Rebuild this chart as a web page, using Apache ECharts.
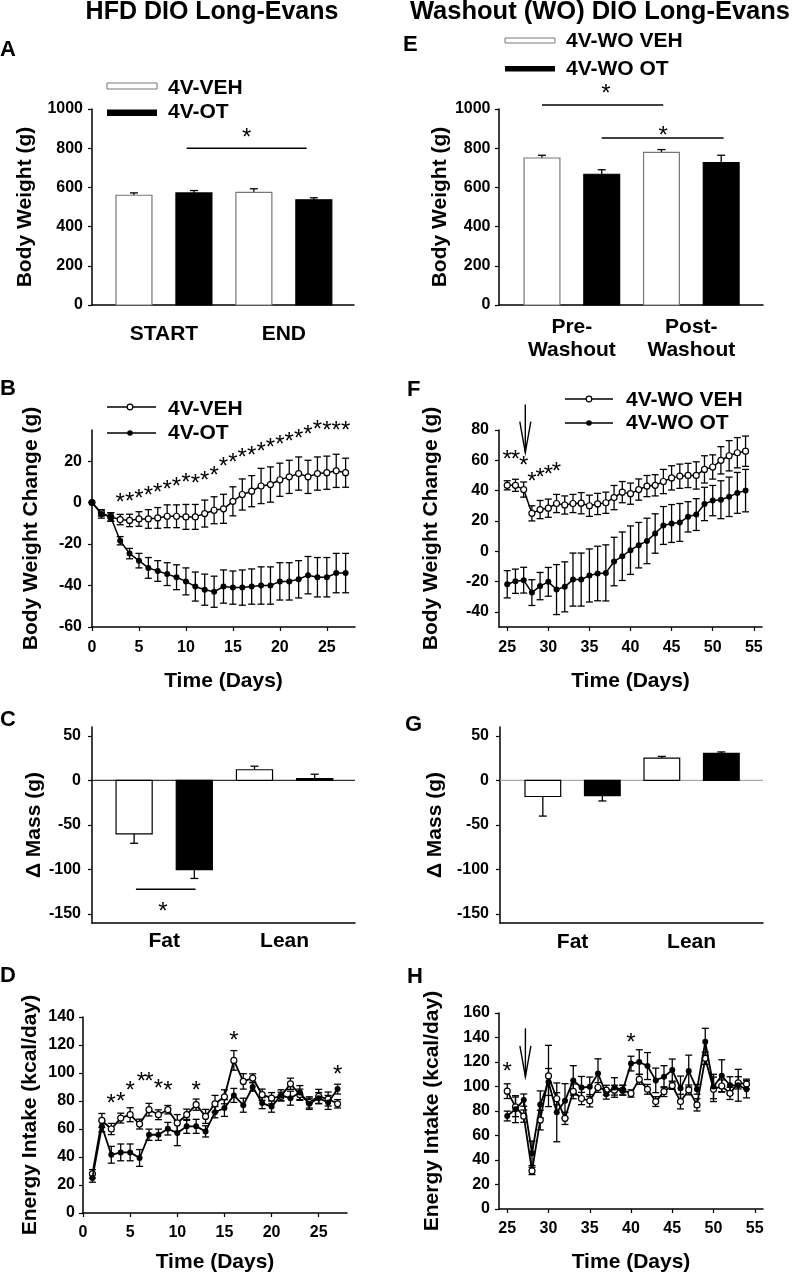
<!DOCTYPE html>
<html><head><meta charset="utf-8">
<script src="https://cdn.jsdelivr.net/npm/echarts@6/dist/echarts.min.js"></script>
<style>html,body{margin:0;padding:0;background:#fff}#c{width:795px;height:1277px}</style>
</head><body><div id="c"></div><script>
// ================= DATA =================
// Panel A (HFD body weight)
const groupsA = ['START', 'END'];
const bwA_VEH = [560, 575];
const bwA_VEH_err = [12, 18];
const bwA_OT = [572, 537];
const bwA_OT_err = [12, 10];
// Panel E (washout body weight)
const groupsE = ['Pre-\nWashout', 'Post-\nWashout'];
const bwE_VEH = [750, 779];
const bwE_VEH_err = [14, 14];
const bwE_OT = [667, 726];
const bwE_OT_err = [23, 38];
// Panels C and G (delta mass)
const groupsMass = ['Fat', 'Lean'];
const massC_VEH = [-60, 12];
const massC_VEH_err = [10.5, 4];
const massC_OT = [-100, 2];
const massC_OT_err = [10, 5];
const massG_VEH = [-18, 25];
const massG_VEH_err = [22, 2];
const massG_OT = [-17, 30.5];
const massG_OT_err = [6, 1.5];

// Panel B (HFD body weight change)
const daysB = [0,1,2,3,4,5,6,7,8,9,10,11,12,13,14,15,16,17,18,19,20,21,22,23,24,25,26,27];
const bwcB_VEH = [0,-5,-6.9,-8.2,-8.6,-7.9,-7.9,-7.4,-6.6,-6.6,-6.9,-6.9,-5.3,-3.7,-3,0.6,3.9,5.5,8,8.7,11,12.4,14,12.4,14,14.4,15.3,14.4];
const bwcB_VEH_err = [0,1.5,2,2.5,3,3.5,4.5,5,5.5,5.5,6,6,6.5,6.5,7,7,7.5,7.5,8.5,8.5,8,8,8,8,8,8,8,7];
const bwcB_OT = [0,-5.5,-7,-18.4,-24.6,-28,-31.5,-33,-34.5,-36,-38,-40.5,-42,-43,-40.5,-41,-41,-40.5,-40,-40,-38,-38,-37,-35,-36,-36,-34,-34];
const bwcB_OT_err = [0,2,2,2,2.5,3.5,5,5,5.5,6,6.5,7,7.5,7.5,8,8,8.5,8.5,9,9,9,9,9,9,9.5,9.5,9.5,9.5];
const starsB = [[3,2.3],[4,3.0],[5,4.2],[6,6],[7,7.4],[8,8.7],[9,10.3],[10,12],[11,11.5],[12,13],[13,15.6],[14,20],[15,21.6],[16,24],[17,25.3],[18,27.3],[19,28.9],[20,30.5],[21,31.8],[22,33.4],[23,35.3],[24,37.7],[25,37],[26,37],[27,37]];

// Panel F (washout body weight change)
const daysWO = [25,26,27,28,29,30,31,32,33,34,35,36,37,38,39,40,41,42,43,44,45,46,47,48,49,50,51,52,53,54];
const bwcF_VEH = [43.5,43.5,40.7,25,27.5,28.4,31.5,30.5,31.5,31.7,30,31.2,32,35.4,39,38,40.7,43,43.5,46,48.4,49.5,50,50,54,55.6,60,63,65,66];
const bwcF_VEH_err = [3,4,5,5,6,6,6,6,6,7,7,7,7,8,7,7,7,7,7,8,8,8,8,9,9,8,9,10,10,10];
const bwcF_OT = [-21.8,-19.8,-19.1,-27.3,-23,-20.2,-25.3,-23.5,-18.7,-18.7,-16,-14.7,-14.3,-6.8,-3.3,0.7,4,6.8,11.7,17,18.3,19,22.7,24.2,31.2,33.4,34,35.9,38.5,40];
const bwcF_OT_err = [9,8,8.5,8.5,9,9.5,16.5,16.5,17.5,17.5,17.5,18,18.5,16,16,16,15,15,13,12.5,12.5,12.5,10,10.5,11,10,12.5,13,13.5,14];
const starsF = [[25,63.8],[26,63.8],[27,60],[28,49.5],[29,52],[30,54],[31,55.7]];
const arrowF = [[27.2, 96.8, 65.1]];

// Panel D (HFD energy intake)
const daysD = [1,2,3,4,5,6,7,8,9,10,11,12,13,14,15,16,17,18,19,20,21,22,23,24,25,26,27];
const eiD_VEH = [28,66.1,60,67.8,70.2,63.5,73.8,70.2,73.8,64.3,70.2,77.4,69,78,83,109,94,96.4,84.5,82,83.3,92.3,84.5,79,83.3,81.4,78];
const eiD_VEH_err = [3,5,4,3.5,5,3.5,4.5,3.5,3,6,4,4,5,6,5,7,5.5,3,4,4,3,4,4,4,5,5,3];
const eiD_OT = [25,61.9,41.6,43.3,43.3,39.3,55.9,55.9,60.2,57.1,61.9,61.9,58.3,72,75,84,77,90,78.5,76,84,82,86,78,82,79,88.5];
const eiD_OT_err = [3,4,6,6,6,6,4,4,4.5,9,5,5,4,4,6,5,5,3,4,4,4,5,5,4,4,5,3.5];
const starsD = [[3,82.1],[4,83.3],[5,90.9],[6.2,97.6],[7,97.6],[8,92.9],[9,90.9],[12,90.9],[16,126.6],[27,102.9]];

// Panel H (washout energy intake)
const eiH_VEH = [96.2,83.4,75.8,31.1,72.6,108.6,90,74,96,90.2,88.3,99.2,97,97,97,94.3,105.8,97.7,87.7,95.8,100.7,87.7,97.2,85,123,97.7,100.4,94.4,103,102];
const eiH_VEH_err = [6,8,5,3,8,25,5,5,6,5,5,4,4,4,4,3,4,4,4,4,3,6,4,5,5,10,5,5,5,4];
const eiH_OT = [75.9,81.5,88.9,45.5,85.4,103.7,78.9,88.3,105,99.2,99.7,110.6,93.7,99.2,97,118.7,120,116.7,105,108,113.4,98.5,112.6,97.7,136.5,100,108.8,101,101,97.7];
const eiH_OT_err = [4,11,5,10,11,11,24,14,12,9,8,12,4,8,4,6,10,11,10,9,9,10,13,4,11,10,13,7,13,7];
const starsH = [[25,116.5],[40,139.8]];
const arrowH = [[27.2, 147.5, 107.9]];

// significance bars: [x1, x2, yLine, xStar, yStar]
const sigA = [[1.88, 3.88, 800, 2.88, 883]];
const sigE = [[1.0, 3.03, 1020, 2.07, 1105], [2.0, 4.04, 852, 3.03, 889]];
const sigC = [[1.03, 2.02, -122, 1.48, -141.6]];

// tick values
const ticksBW = [0, 200, 400, 600, 800, 1000];
const ticksB = [-60, -40, -20, 0, 20];
const ticksF = [-40, -20, 0, 20, 40, 60, 80];
const ticksMass = [-150, -100, -50, 0, 50];
const ticksD = [0, 20, 40, 60, 80, 100, 120, 140];
const ticksH = [0, 20, 40, 60, 80, 100, 120, 140, 160];
const ticksDayHFD = [0, 5, 10, 15, 20, 25];
const ticksDayWO = [25, 30, 35, 40, 45, 50, 55];

// ================= CHART =================
const FF = "'Liberation Sans', Arial, Helvetica, sans-serif";
const grids = [], xAxes = [], yAxes = [], series = [];

function axisBase(extra) {
  return Object.assign({
    type: 'value',
    axisLine: { show: true, onZero: false, lineStyle: { color: '#000', width: 1.5 } },
    splitLine: { show: false },
    nameLocation: 'middle',
    nameTextStyle: { color: '#000', fontFamily: FF, fontWeight: 'bold', fontSize: 21 },
  }, extra);
}
function lab(margin, values, formatter) {
  return { color: '#000', fontFamily: FF, fontWeight: 'bold', fontSize: 16, margin: margin, customValues: values,
    formatter: formatter || (v => String(v)) };
}
function tick(values, show) {
  return { show: show !== false, length: 4, inside: false, customValues: values, lineStyle: { color: '#000', width: 1.2 } };
}
function addPanel(grid, xa, ya) {
  const i = grids.length;
  grids.push(grid);
  xa.gridIndex = i; ya.gridIndex = i;
  xAxes.push(xa); yAxes.push(ya);
  return i;
}

// ---- renderers ----
function errRender(params, api) {
  const x = api.value(0), y = api.value(1), e = api.value(2);
  if (!e) return null;
  const lo = api.coord([x, y - e]), hi = api.coord([x, y + e]);
  const st = { stroke: '#000', lineWidth: 1.3 };
  const c = 3.5;
  return { type: 'group', children: [
    { type: 'line', shape: { x1: lo[0], y1: lo[1], x2: hi[0], y2: hi[1] }, style: st },
    { type: 'line', shape: { x1: lo[0] - c, y1: lo[1], x2: lo[0] + c, y2: lo[1] }, style: st },
    { type: 'line', shape: { x1: hi[0] - c, y1: hi[1], x2: hi[0] + c, y2: hi[1] }, style: st }
  ] };
}
function barRender(fill, stroke) {
  return function (params, api) {
    const x = api.value(0), v = api.value(1), e = api.value(2);
    const w = api.size([0.6, 0])[0];
    const p0 = api.coord([x, 0]), p1 = api.coord([x, v]);
    const pe = api.coord([x, v + (v >= 0 ? e : -e)]);
    const st = { stroke: '#000', lineWidth: 1.3 };
    return { type: 'group', children: [
      { type: 'line', shape: { x1: p1[0], y1: p1[1], x2: pe[0], y2: pe[1] }, style: st },
      { type: 'line', shape: { x1: pe[0] - 4, y1: pe[1], x2: pe[0] + 4, y2: pe[1] }, style: st },
      { type: 'rect', shape: { x: p0[0] - w / 2, y: Math.min(p0[1], p1[1]), width: w, height: Math.abs(p1[1] - p0[1]) },
        style: { fill: fill, stroke: stroke, lineWidth: 1.2 } }
    ] };
  };
}
const starFont = { fill: '#000', fontFamily: FF, fontSize: 24, align: 'center', verticalAlign: 'middle' };
const STAR_DY = 6;
function starRender(params, api) {
  const p = api.coord([api.value(0), api.value(1)]);
  return { type: 'text', x: p[0], y: p[1] + STAR_DY, style: Object.assign({ text: '*' }, starFont) };
}
function sigRender(params, api) {
  const a = api.coord([api.value(0), api.value(2)]), b = api.coord([api.value(1), api.value(2)]);
  const s = api.coord([api.value(3), api.value(4)]);
  return { type: 'group', children: [
    { type: 'line', shape: { x1: a[0], y1: a[1], x2: b[0], y2: b[1] }, style: { stroke: '#000', lineWidth: 1.5 } },
    { type: 'text', x: s[0], y: s[1] + STAR_DY, style: Object.assign({ text: '*' }, starFont) }
  ] };
}
function arrowRender(params, api) {
  const t = api.coord([api.value(0), api.value(1)]), p = api.coord([api.value(0), api.value(2)]);
  const st = { stroke: '#000', lineWidth: 1.4, fill: null };
  return { type: 'group', children: [
    { type: 'line', shape: { x1: t[0], y1: t[1], x2: p[0], y2: p[1] }, style: st },
    { type: 'polyline', shape: { points: [[p[0] - 5.5, p[1] - 31], [p[0], p[1]], [p[0] + 5.5, p[1] - 31]] }, style: st }
  ] };
}
function zeroRender(color) {
  return function (params, api) {
    const cs = params.coordSys;
    const y = api.coord([api.value(0), 0])[1];
    return { type: 'line', shape: { x1: cs.x, y1: y, x2: cs.x + cs.width, y2: y }, style: { stroke: color, lineWidth: 1.3 } };
  };
}
function custom(idx, data, render, z) {
  series.push({ type: 'custom', xAxisIndex: idx, yAxisIndex: idx, data: data, renderItem: render,
    encode: { x: 0, y: 1 }, clip: false, silent: true, z: z || 3 });
}
function zip(xs, ys, es) { return xs.map((x, i) => es ? [x, ys[i], es[i]] : [x, ys[i]]); }

// ---- bar panels ----
function barPanel(grid, xmin, xmax, groups, labelMargin, ymin, ymax, yticks, yname, ygap, ylabMargin,
                  veh, vehErr, ot, otErr, vehStroke, sig, zeroColor) {
  const labX = groups.map((g, i) => 1.5 + 2 * i);
  const idx = addPanel(grid,
    axisBase({ min: xmin, max: xmax,
      axisLabel: Object.assign(lab(labelMargin, labX, v => groups[Math.round((v - 1.5) / 2)]), { fontSize: 21, lineHeight: 22.5 }),
      axisTick: { show: false } }),
    axisBase({ min: ymin, max: ymax, name: yname, nameGap: ygap, nameRotate: 90,
      axisLabel: lab(ylabMargin, yticks), axisTick: tick(yticks) }));
  if (zeroColor) custom(idx, [[1, 0]], zeroRender(zeroColor), 2);
  custom(idx, groups.map((g, i) => [1 + 2 * i, veh[i], vehErr[i]]), barRender('#fff', vehStroke), 3);
  custom(idx, groups.map((g, i) => [2 + 2 * i, ot[i], otErr[i]]), barRender('#000', '#000'), 3);
  if (sig) custom(idx, sig, sigRender, 4);
}
barPanel({ left: 92, top: 109, width: 262, height: 196 }, 0.3, 4.67, groupsA, 18, 0, 1000, ticksBW, 'Body Weight (g)', 56, 9,
  bwA_VEH, bwA_VEH_err, bwA_OT, bwA_OT_err, '#777', sigA, null);
barPanel({ left: 499, top: 109, width: 264, height: 196 }, 0.28, 4.70, groupsE, 11, 0, 1000, ticksBW, 'Body Weight (g)', 48, 8.5,
  bwE_VEH, bwE_VEH_err, bwE_OT, bwE_OT_err, '#777', sigE, null);

// ---- line panels ----
function linePanel(grid, xmin, xmax, xticks, xlabMargin, xgap, ymin, ymax, yticks, yname, ygap, ylabMargin,
                   days, veh, vehErr, ot, otErr, stars, arrow, lw) {
  const idx = addPanel(grid,
    axisBase({ min: xmin, max: xmax, name: 'Time (Days)', nameGap: xgap,
      axisLabel: lab(xlabMargin, xticks), axisTick: tick(xticks) }),
    axisBase({ min: ymin, max: ymax, name: yname, nameGap: ygap, nameRotate: 90,
      axisLabel: lab(ylabMargin, yticks), axisTick: tick(yticks) }));
  custom(idx, zip(days, veh, vehErr), errRender, 2);
  custom(idx, zip(days, ot, otErr), errRender, 2);
  series.push({ type: 'line', xAxisIndex: idx, yAxisIndex: idx, data: zip(days, veh), symbol: 'circle', symbolSize: 6,
    showSymbol: true, clip: false, silent: true, z: 4,
    lineStyle: { color: '#000', width: lw }, itemStyle: { color: '#fff', borderColor: '#000', borderWidth: 1.2 } });
  series.push({ type: 'line', xAxisIndex: idx, yAxisIndex: idx, data: zip(days, ot), symbol: 'circle', symbolSize: 6,
    showSymbol: true, clip: false, silent: true, z: 5,
    lineStyle: { color: '#000', width: lw }, itemStyle: { color: '#000', borderColor: '#000', borderWidth: 0 } });
  if (stars) custom(idx, stars, starRender, 6);
  if (arrow) custom(idx, arrow, arrowRender, 6);
}
linePanel({ left: 92, top: 430, width: 263, height: 197 }, 0, 28, ticksDayHFD, 13, 44, -60, 35, ticksB,
  'Body Weight Change (g)', 50, 10, daysB, bwcB_VEH, bwcB_VEH_err, bwcB_OT, bwcB_OT_err, starsB, null, 1.5);
linePanel({ left: 499, top: 430, width: 263, height: 197 }, 24, 56, ticksDayWO, 13, 44, -50, 80, ticksF,
  'Body Weight Change (g)', 57, 10, daysWO, bwcF_VEH, bwcF_VEH_err, bwcF_OT, bwcF_OT_err, starsF, arrowF, 1.5);

barPanel({ left: 92, top: 727, width: 263, height: 196 }, 0.3, 4.67, groupsMass, 7, -160, 60, ticksMass, 'Δ Mass (g)', 47, 11,
  massC_VEH, massC_VEH_err, massC_OT, massC_OT_err, '#000', sigC, '#333');
barPanel({ left: 500, top: 727, width: 263, height: 196 }, 0.28, 4.70, groupsMass, 8, -160, 60, ticksMass, 'Δ Mass (g)', 54, 11,
  massG_VEH, massG_VEH_err, massG_OT, massG_OT_err, '#000', null, '#aaa');

linePanel({ left: 83, top: 1017, width: 264, height: 196 }, 0, 28, ticksDayHFD, 12, 39, 0, 140, ticksD,
  'Energy Intake (kcal/day)', 42, 8, daysD, eiD_VEH, eiD_VEH_err, eiD_OT, eiD_OT_err, starsD, null, 1.8);
linePanel({ left: 499, top: 1013, width: 264, height: 196 }, 24, 56, ticksDayWO, 12, 43, 0, 160, ticksH,
  'Energy Intake (kcal/day)', 56, 9, daysWO, eiH_VEH, eiH_VEH_err, eiH_OT, eiH_OT_err, starsH, arrowH, 1.8);

// ---- text / legend graphics ----
const bold = (size) => ({ fill: '#000', fontFamily: FF, fontWeight: 'bold', fontSize: size });
function txt(x, y, text, size, align) {
  return { type: 'text', x: x, y: y, silent: true, style: Object.assign({ text: text, align: align || 'left', verticalAlign: 'middle' }, bold(size)) };
}
const graphic = [
  txt(212, 12, 'HFD DIO Long-Evans', 25, 'center'),
  txt(600, 12, 'Washout (WO) DIO Long-Evans', 25.5, 'center'),
  txt(0, 50, 'A', 22), txt(403, 45, 'E', 22),
  txt(0, 389, 'B', 22), txt(407, 390, 'F', 22),
  txt(0, 720, 'C', 22), txt(405, 725, 'G', 22),
  txt(0, 976, 'D', 22), txt(407, 977, 'H', 22),
  // legend A
  { type: 'rect', shape: { x: 107, y: 83, width: 50, height: 6 }, style: { fill: '#fff', stroke: '#777', lineWidth: 1 } },
  { type: 'rect', shape: { x: 107, y: 109.5, width: 50, height: 6.5 }, style: { fill: '#000' } },
  txt(168, 88, '4V-VEH', 21), txt(168, 112, '4V-OT', 21),
  // legend E
  { type: 'rect', shape: { x: 505, y: 38, width: 50, height: 5 }, style: { fill: '#fff', stroke: '#777', lineWidth: 1 } },
  { type: 'rect', shape: { x: 505, y: 66, width: 50, height: 5.5 }, style: { fill: '#000' } },
  txt(566, 41, '4V-WO VEH', 21), txt(566, 69, '4V-WO OT', 21),
  // legend B
  { type: 'line', shape: { x1: 107, y1: 407, x2: 156, y2: 407 }, style: { stroke: '#000', lineWidth: 1.3 } },
  { type: 'circle', shape: { cx: 130, cy: 407, r: 2.8 }, style: { fill: '#fff', stroke: '#000', lineWidth: 1.2 } },
  { type: 'line', shape: { x1: 107, y1: 433, x2: 156, y2: 433 }, style: { stroke: '#000', lineWidth: 1.3 } },
  { type: 'circle', shape: { cx: 130, cy: 433, r: 2.8 }, style: { fill: '#000' } },
  txt(168, 409, '4V-VEH', 21), txt(168, 433, '4V-OT', 21),
  // legend F
  { type: 'line', shape: { x1: 565, y1: 399, x2: 613, y2: 399 }, style: { stroke: '#000', lineWidth: 1.3 } },
  { type: 'circle', shape: { cx: 589, cy: 399, r: 2.8 }, style: { fill: '#fff', stroke: '#000', lineWidth: 1.2 } },
  { type: 'line', shape: { x1: 565, y1: 423, x2: 613, y2: 423 }, style: { stroke: '#000', lineWidth: 1.3 } },
  { type: 'circle', shape: { cx: 589, cy: 423, r: 2.8 }, style: { fill: '#000' } },
  txt(626, 400, '4V-WO VEH', 21), txt(626, 423, '4V-WO OT', 21)
];

const chart = echarts.init(document.getElementById('c'), null, { renderer: 'canvas' });
chart.setOption({
  animation: false,
  backgroundColor: '#fff',
  textStyle: { fontFamily: FF },
  grid: grids,
  xAxis: xAxes,
  yAxis: yAxes,
  series: series,
  graphic: graphic
});
</script></body></html>
